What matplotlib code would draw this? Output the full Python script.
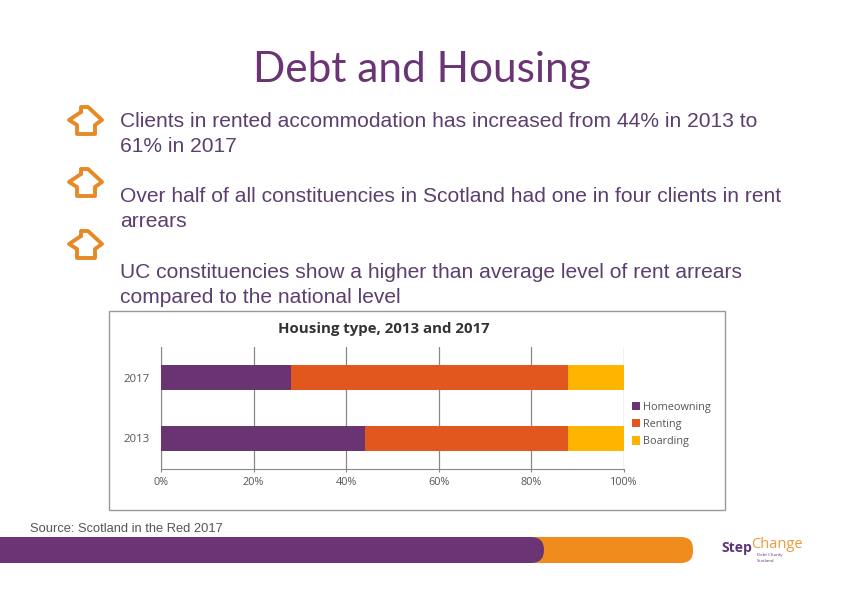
import matplotlib
matplotlib.use('Agg')
import matplotlib.pyplot as plt
from matplotlib.patches import Rectangle, FancyBboxPatch

W, H = 842, 596

years = ['2013', '2017']
homeowning = [44, 28]
renting = [44, 60]
boarding = [12, 12]
xticks = [0, 20, 40, 60, 80, 100]
xlabels = ['0%', '20%', '40%', '60%', '80%', '100%']
series_names = ['Homeowning', 'Renting', 'Boarding']
series_colors = ['#6A3472', '#E2571E', '#FFB400']

bullets = [
    'Clients in rented accommodation has increased from 44% in 2013 to\n61% in 2017',
    'Over half of all constituencies in Scotland had one in four clients in rent\narrears',
    'UC constituencies show a higher than average level of rent arrears\ncompared to the national level',
]
bullet_y = [112, 187, 263]
icon_y = [105, 167, 229]

PURPLE = '#6B3575'
TEXT = '#5B3F6E'
ORANGE = '#E58A26'


def px(x0, y0, x1, y1):
    # pixel box (y from top) to figure fractions
    return [x0 / W, 1 - y1 / H, (x1 - x0) / W, (y1 - y0) / H]


fig = plt.figure(figsize=(W / 100, H / 100), dpi=100)
bg = fig.add_axes([0, 0, 1, 1])
bg.set_xlim(0, W)
bg.set_ylim(H, 0)
bg.axis('off')

bg.text(422, 70, 'Debt and Housing', family='Lato', fontsize=30.5, color=PURPLE,
        ha='center', va='center')

for txt, y in zip(bullets, bullet_y):
    bg.text(120, y, txt, family='Liberation Sans', fontsize=15.1, color=TEXT,
            va='top', linespacing=1.38)

# house icons
xs = [81, 81, 88, 102, 95, 95, 77, 77, 69, 81]
ys = [7, 2, 2, 15, 20, 29, 29, 20, 15, 7]
for y in icon_y:
    bg.plot(xs, [y + v for v in ys], color=ORANGE, lw=2.8,
            solid_joinstyle='round', solid_capstyle='round')

# chart frame
bg.add_patch(Rectangle((108.5, 311), 616.5, 199, fc='white', ec='#999999', lw=1))
bg.text(384, 329, 'Housing type, 2013 and 2017', family='Open Sans', weight='bold',
        fontsize=10.8, color='#333333', ha='center', va='center')

ax = fig.add_axes(px(161, 347, 624, 469))
ax.set_xlim(0, 100)
ax.set_ylim(-0.5, 1.5)
ax.patch.set_alpha(0)
left = [0, 0]
for vals, name, col in zip([homeowning, renting, boarding], series_names, series_colors):
    ax.barh(years, vals, left=left, height=0.41, color=col, label=name, zorder=3)
    left = [a + b for a, b in zip(left, vals)]
ax.set_xticks(xticks)
ax.set_xticklabels(xlabels, family='Open Sans', fontsize=7.8, color='#555555')
ax.tick_params(axis='x', length=2, color='#888888', pad=3.5)
ax.tick_params(axis='y', length=0, pad=8)
for lab in ax.get_yticklabels():
    lab.set_family('Open Sans')
    lab.set_fontsize(8.2)
    lab.set_color('#555555')
ax.grid(axis='x', color='#888888', lw=0.9, zorder=0)
for s in ['top', 'right']:
    ax.spines[s].set_visible(False)
for s in ['left', 'bottom']:
    ax.spines[s].set_color('#888888')
handles, labels = ax.get_legend_handles_labels()
ax.legend(handles, labels, loc='center left', bbox_to_anchor=(1.0, 0.365), frameon=False,
          prop={'family': 'Open Sans', 'size': 7.8}, labelcolor='#555555',
          handlelength=0.8, handleheight=0.8, handletextpad=0.3, labelspacing=0.58,
          borderpad=0, borderaxespad=0.7)

# footer
bg.text(30, 529.5, 'Source: Scotland in the Red 2017', family='Liberation Sans', fontsize=9.3,
        color='#555555', va='center')
bg.add_patch(FancyBboxPatch((-30, 537), 723, 26, boxstyle='round,pad=0,rounding_size=12',
                            fc='#F08C1E', ec='none'))
bg.add_patch(FancyBboxPatch((-30, 537), 574, 26, boxstyle='round,pad=0,rounding_size=13',
                            fc=PURPLE, ec='none'))

# logo
bg.text(721, 548, 'Step', family='Open Sans', weight='bold', fontsize=10, color='#5E3574',
        va='center')
bg.text(751, 545, 'Change', family='Open Sans', fontsize=10.5, color='#EE9A3E', va='center')
bg.text(757, 555, 'Debt Charity', family='Open Sans', fontsize=3.2, color='#5E3574', va='center')
bg.text(757, 561, 'Scotland', family='Open Sans', fontsize=3.2, color='#5E3574', va='center')

fig.savefig('out.png', dpi=100)
